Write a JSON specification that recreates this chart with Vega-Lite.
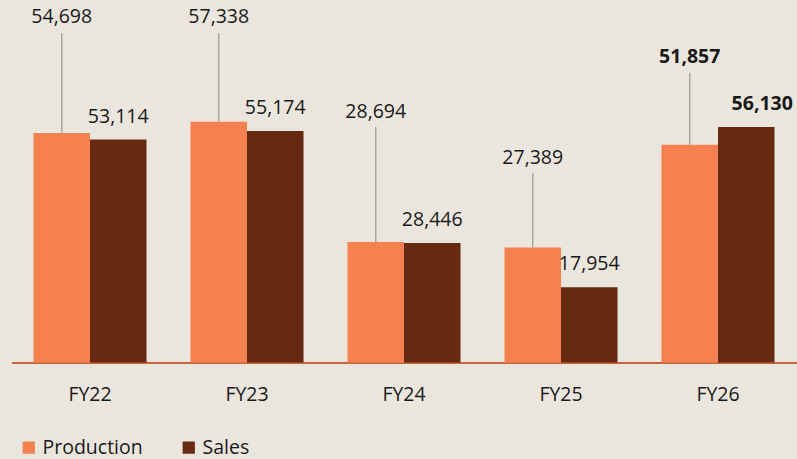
{
  "$schema": "https://vega.github.io/schema/vega-lite/v6.json",
  "width": 785,
  "height": 361,
  "autosize": {"type": "none"},
  "padding": {"left": 11.5, "top": 1.5, "right": 0.5, "bottom": 96.5},
  "background": "#EBE6DD",
  "config": {
    "view": {"stroke": null},
    "font": "Open Sans",
    "text": {"font": "Open Sans"}
  },
  "data": {
    "values": [
      {"year": "FY22", "series": "Production", "value": 54698, "callout": 78500},
      {"year": "FY22", "series": "Sales", "value": 53114, "callout": null},
      {"year": "FY23", "series": "Production", "value": 57338, "callout": 78500},
      {"year": "FY23", "series": "Sales", "value": 55174, "callout": null},
      {"year": "FY24", "series": "Production", "value": 28694, "callout": 56100},
      {"year": "FY24", "series": "Sales", "value": 28446, "callout": null},
      {"year": "FY25", "series": "Production", "value": 27389, "callout": 45100},
      {"year": "FY25", "series": "Sales", "value": 17954, "callout": null},
      {"year": "FY26", "series": "Production", "value": 51857, "callout": 69000},
      {"year": "FY26", "series": "Sales", "value": 56130, "callout": null}
    ]
  },
  "encoding": {
    "x": {
      "field": "year",
      "type": "nominal",
      "sort": null,
      "scale": {"paddingInner": 0.28, "paddingOuter": 0.14},
      "axis": {
        "title": null,
        "labelAngle": 0,
        "labelAlign": "center",
        "labelFont": "Open Sans",
        "labelFontSize": 19.5,
        "labelColor": "#1A1A1A",
        "labelBaseline": "middle",
        "labelPadding": 32,
        "ticks": false,
        "domainColor": "#C9653C",
        "domainWidth": 2,
        "grid": false
      }
    },
    "xOffset": {
      "field": "series",
      "type": "nominal",
      "scale": {"domain": ["Production", "Sales"], "paddingInner": 0, "paddingOuter": 0}
    }
  },
  "layer": [
    {
      "mark": {"type": "bar"},
      "encoding": {
        "y": {
          "field": "value",
          "type": "quantitative",
          "scale": {"domain": [0, 86000], "nice": false, "zero": true},
          "axis": null
        },
        "color": {
          "field": "series",
          "type": "nominal",
          "scale": {"domain": ["Production", "Sales"], "range": ["#F4814F", "#662911"]},
          "legend": {
            "title": null,
            "orient": "none",
            "direction": "horizontal",
            "legendX": 7.5,
            "legendY": 436,
            "symbolType": "square",
            "symbolSize": 150,
            "symbolStrokeWidth": 0,
            "labelFont": "Open Sans",
            "labelFontSize": 19.5,
            "labelColor": "#1A1A1A",
            "labelOffset": 4,
            "columnPadding": 36
          }
        }
      }
    },
    {
      "transform": [{"filter": "datum.series === 'Production'"}],
      "mark": {"type": "rule", "color": "#A6A6A6", "strokeWidth": 1.5},
      "encoding": {
        "y": {"field": "callout", "type": "quantitative"},
        "y2": {"field": "value"}
      }
    },
    {
      "transform": [{"filter": "datum.series === 'Production'"}],
      "mark": {
        "type": "text",
        "baseline": "middle",
        "align": "center",
        "dy": -15.5,
        "fontSize": 19.5,
        "color": "#1A1A1A",
        "fontWeight": {"expr": "datum.year === 'FY26' ? 'bold' : 'normal'"}
      },
      "encoding": {
        "y": {"field": "callout", "type": "quantitative"},
        "text": {"field": "value", "type": "quantitative", "format": ","}
      }
    },
    {
      "transform": [{"filter": "datum.series === 'Sales'"}],
      "mark": {
        "type": "text",
        "baseline": "middle",
        "align": "center",
        "dy": -23,
        "dx": {"expr": "datum.year === 'FY26' ? 16 : 0"},
        "fontSize": 19.5,
        "color": "#1A1A1A",
        "fontWeight": {"expr": "datum.year === 'FY26' ? 'bold' : 'normal'"}
      },
      "encoding": {
        "y": {"field": "value", "type": "quantitative"},
        "text": {"field": "value", "type": "quantitative", "format": ","}
      }
    }
  ]
}
